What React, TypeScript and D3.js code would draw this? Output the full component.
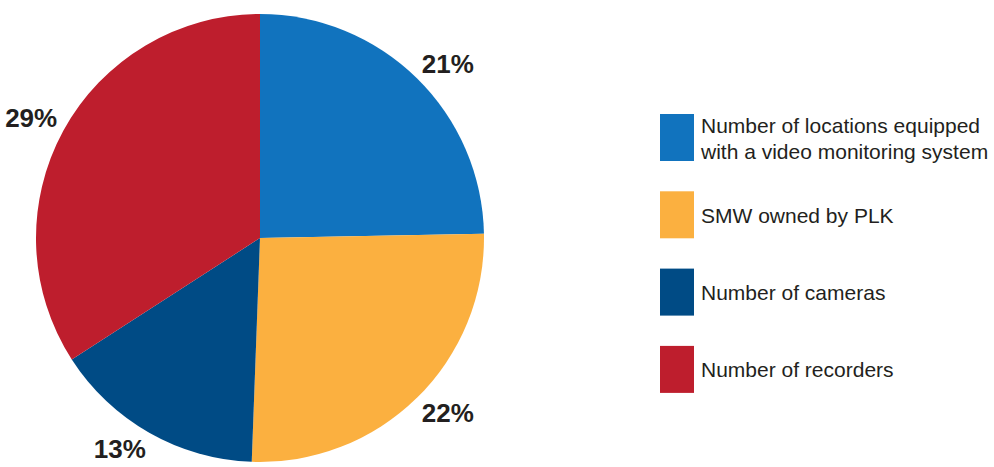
import React from "react";
import * as d3 from "d3";

// slice values as printed on the chart (d3.pie normalises them)
const categories = [
  "Number of locations equipped|with a video monitoring system",
  "SMW owned by PLK",
  "Number of cameras",
  "Number of recorders",
];
const values = [21, 22, 13, 29];
const colors = ["#1173be", "#fbb040", "#004b85", "#be1e2d"];

const width = 994;
const height = 467;
const cx = 260;
const cy = 238;
const radius = 224;

export default function App() {
  const pie = d3.pie<number>().sort(null).value((d) => d);
  const arcs = pie(values);
  const arc = d3.arc<d3.PieArcDatum<number>>().innerRadius(0).outerRadius(radius);

  // label box corner sits just outside the rim, along the slice mid angle (excel "outside end")
  const labelR = radius + 7;
  const labelW = 52;
  const capH = 19;

  return (
    <svg width={width} height={height} style={{ position: "absolute", left: 0, top: 0 }}>
      <g transform={`translate(${cx},${cy})`}>
        {arcs.map((a, i) => (
          <path key={i} d={arc(a) ?? ""} fill={colors[i]} />
        ))}
        {arcs.map((a, i) => {
          const mid = (a.startAngle + a.endAngle) / 2;
          const px = Math.sin(mid) * labelR;
          const py = -Math.cos(mid) * labelR;
          const right = Math.sin(mid) >= 0;
          const below = -Math.cos(mid) >= 0;
          const x = right ? px + labelW / 2 : px - labelW / 2;
          const baseline = below ? py + capH : py;
          return (
            <text
              key={i}
              x={x}
              y={baseline}
              textAnchor="middle"
              fontFamily="Liberation Sans, Arial, sans-serif"
              fontWeight="bold"
              fontSize={26}
              fill="#231f20"
            >
              {d3.format("d")(values[i])}%
            </text>
          );
        })}
      </g>
      <g>
        {categories.map((c, i) => {
          const top = 114 + i * 77.3;
          const mid = top + 23.5;
          const lines = c.split("|");
          return (
            <g key={i}>
              <rect x={660} y={top} width={34} height={47} fill={colors[i]} />
              {lines.map((l, j) => (
                <text
                  key={j}
                  x={701}
                  y={mid + 8 + (j - (lines.length - 1) / 2) * 26}
                  fontFamily="Liberation Sans, Arial, sans-serif"
                  fontSize={21}
                  fill="#231f20"
                >
                  {l}
                </text>
              ))}
            </g>
          );
        })}
      </g>
    </svg>
  );
}
